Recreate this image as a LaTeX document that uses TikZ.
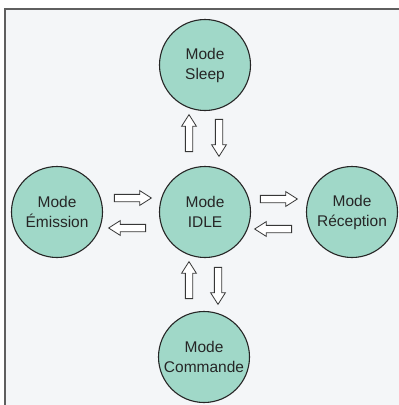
\documentclass[tikz,border=0pt]{standalone}
\usepackage{fontspec}
\setmainfont{Liberation Sans}
\usetikzlibrary{shapes.arrows}
\definecolor{modefill}{RGB}{160,216,200}
\definecolor{bgfill}{RGB}{244,246,248}
\definecolor{framecol}{RGB}{95,95,95}
\definecolor{arrowcol}{RGB}{55,55,55}
\tikzset{
  mode/.style={circle, draw=black!85, line width=1.1pt, fill=modefill,
    minimum size=91pt, inner sep=0pt, align=center,
    font=\fontsize{15.5}{20}\selectfont, text=black!85},
  blockarrow/.style={single arrow, draw=arrowcol, line width=0.8pt, fill=white,
    minimum height=37pt, inner sep=0pt, text height=6.5pt, text depth=0pt,
    text width=0pt, single arrow head extend=3.8pt, single arrow tip angle=65},
}
\begin{document}
\begin{tikzpicture}[x=1pt,y=-1pt]
  \useasboundingbox (0,0) rectangle (399,405);
  \fill[white] (0,0) rectangle (399,405);
  \draw[framecol, line width=1.6pt, fill=bgfill] (5,9) rectangle (410,415);

  \node[mode] (sleep) at (205,65) {Mode\\Sleep};
  \node[mode] (idle) at (205,212) {Mode\\IDLE};
  \node[mode] (emis) at (57,212) {Mode\\Émission};
  \node[mode] (recep) at (352,212) {Mode\\Réception};
  \node[mode] (cmd) at (204,357) {Mode\\Commande};

  \node[blockarrow, rotate=90] (a1) at (189,136) {};
  \node[blockarrow, rotate=-90] (a2) at (219,135) {};
  \node[blockarrow] (a3) at (130,198) {};
  \node[blockarrow, rotate=180] (a4) at (130,228) {};
  \node[blockarrow] (a5) at (276,199) {};
  \node[blockarrow, rotate=180] (a6) at (276,229) {};
  \node[blockarrow, rotate=90] (a7) at (189,283) {};
  \node[blockarrow, rotate=-90] (a8) at (218,283) {};
\end{tikzpicture}
\end{document}
